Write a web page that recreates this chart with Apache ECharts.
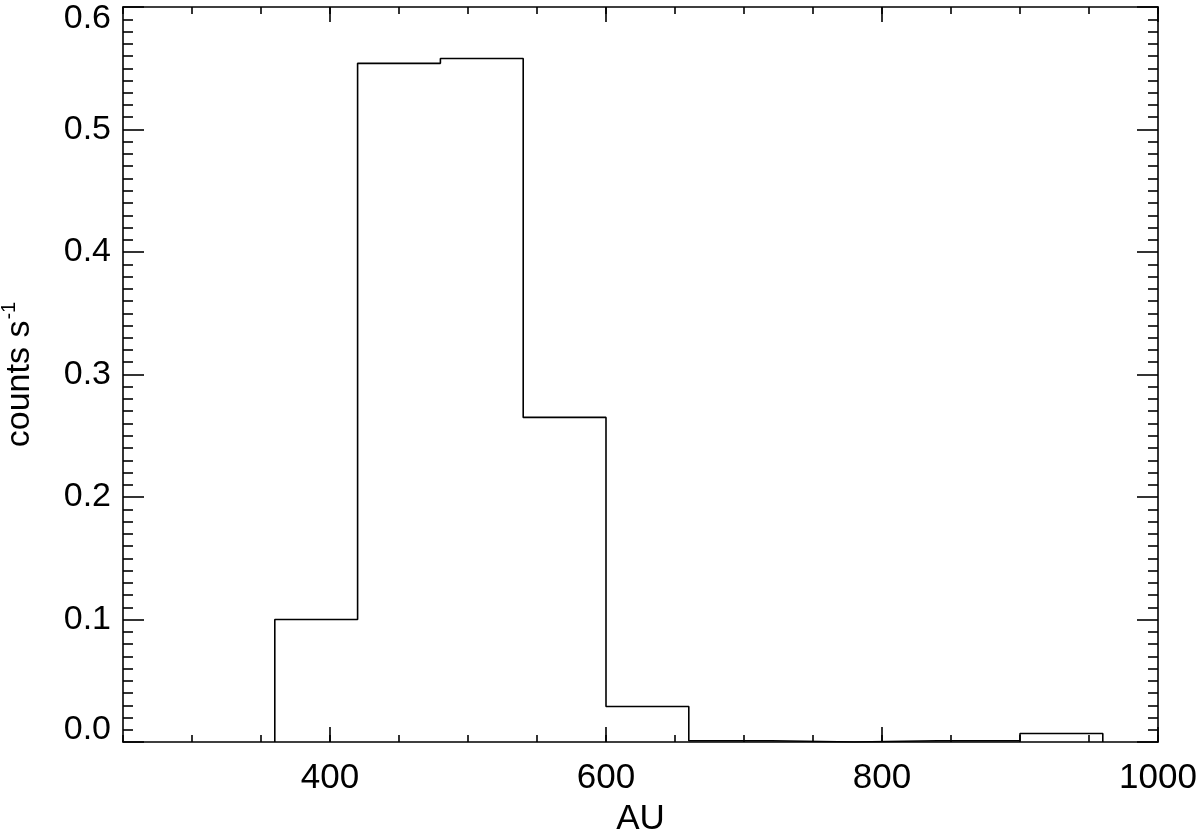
<!DOCTYPE html>
<html>
<head>
<meta charset="utf-8">
<script src="https://cdn.jsdelivr.net/npm/echarts@6/dist/echarts.min.js"></script>
<style>
  html, body { margin: 0; background: #fff; }
  #chart { width: 1200px; height: 834px; }
</style>
</head>
<body>
<div id="chart"></div>
<script>
// histogram bins: left edges (AU), last entry is the right edge of the last bin
var binEdges = [360, 420, 480, 540, 600, 660, 720, 780, 840, 900, 960];
// count rate in each bin (counts s^-1)
var rates = [0.100, 0.554, 0.558, 0.265, 0.029, 0.001, 0.000, 0.001, 0.001, 0.007];
// labelled / long ticks on the x axis
var xMajorTicks = [400, 600, 800, 1000];

(function () {
    'use strict';

    var FONT = 'Liberation Sans';
    var INK = '#000';
    var LW = 1.6;

    // step outline: start at zero on the first edge, drop back to zero on the last one
    var pts = [[binEdges[0], 0]];
    for (var i = 0; i < rates.length; i++) pts.push([binEdges[i], rates[i]]);
    pts.push([binEdges[binEdges.length - 1], 0]);

    function xAxisCfg(pos, major, showLabels) {
        return {
            type: 'value',
            position: pos,
            min: 250,
            max: 1000,
            interval: 50,
            name: showLabels ? 'AU' : '',
            nameLocation: 'middle',
            nameGap: 60,
            nameTextStyle: { color: INK, fontSize: 35, fontFamily: FONT },
            axisLine: { show: !major, onZero: false, lineStyle: { color: INK, width: LW } },
            axisTick: major
                ? { show: true, inside: true, length: 15, customValues: xMajorTicks, lineStyle: { color: INK, width: LW } }
                : { show: true, inside: true, length: 7, lineStyle: { color: INK, width: LW } },
            axisLabel: showLabels
                ? { show: true, margin: 19, color: INK, fontSize: 35, fontFamily: FONT,
                    formatter: function (v) { return v % 200 === 0 ? String(v) : ''; } }
                : { show: false },
            splitLine: { show: false }
        };
    }

    function yAxisCfg(pos, showLabels) {
        return {
            type: 'value',
            position: pos,
            min: 0,
            max: 0.6,
            interval: 0.1,
            name: showLabels ? '{n|counts s}{s|-1}' : '',
            nameLocation: 'middle',
            nameGap: 86,
            nameTextStyle: {
                color: INK, fontFamily: FONT,
                rich: {
                    n: { fontSize: 34, fontFamily: FONT, color: INK, lineHeight: 40, verticalAlign: 'bottom' },
                    s: { fontSize: 20, fontFamily: FONT, color: INK, lineHeight: 40, verticalAlign: 'top', padding: [2, 0, 0, 1] }
                }
            },
            axisLine: { show: true, lineStyle: { color: INK, width: LW } },
            axisTick: { show: true, inside: true, length: 21, lineStyle: { color: INK, width: LW } },
            minorTick: { show: true, splitNumber: 10, length: 10, lineStyle: { color: INK, width: LW } },
            axisLabel: showLabels
                ? { show: true, margin: 12, color: INK, fontSize: 34, lineHeight: 24, fontFamily: FONT,
                    verticalAlignMinLabel: 'bottom', verticalAlignMaxLabel: 'top',
                    formatter: function (v) { return v.toFixed(1); } }
                : { show: false },
            splitLine: { show: false },
            minorSplitLine: { show: false }
        };
    }

    var chart = echarts.init(document.getElementById('chart'));
    chart.setOption({
        animation: false,
        backgroundColor: '#fff',
        textStyle: { fontFamily: FONT },
        // fixed plot box; don't let ECharts shrink it to fit the axis names
        grid: { left: 123, right: 42, top: 7, bottom: 92, containLabel: false, outerBoundsMode: 'none' },
        xAxis: [
            xAxisCfg('bottom', false, true),
            xAxisCfg('bottom', true, false),
            xAxisCfg('top', false, false),
            xAxisCfg('top', true, false)
        ],
        yAxis: [
            yAxisCfg('left', true),
            yAxisCfg('right', false)
        ],
        series: [{
            type: 'line',
            step: 'end',
            xAxisIndex: 0,
            yAxisIndex: 0,
            data: pts,
            symbol: 'none',
            clip: true,
            lineStyle: { color: INK, width: LW }
        }]
    });
})();
</script>
</body>
</html>
